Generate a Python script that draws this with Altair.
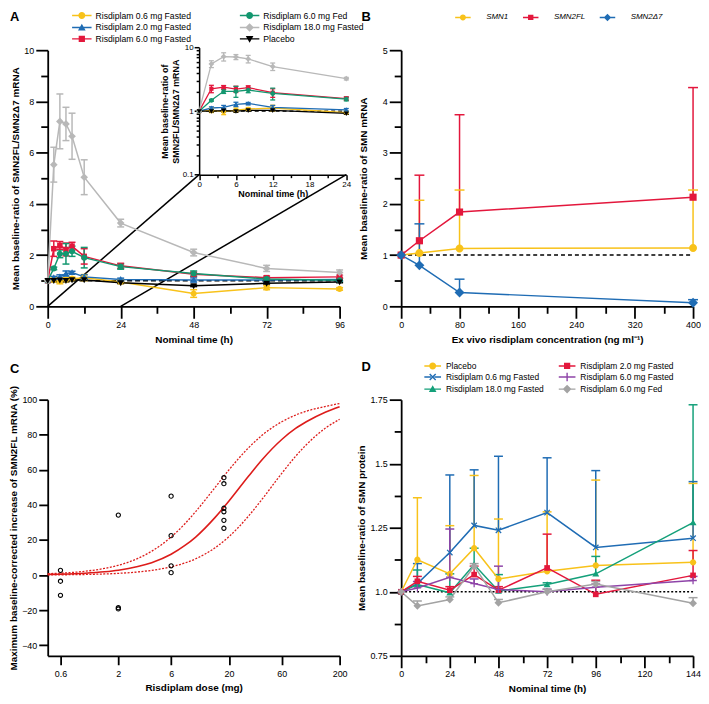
import altair as alt
import pandas as pd

FONT = "Liberation Sans"
W, H = 294, 258

# ---------------- Panel A data ----------------
A_TIME = [0, 2, 4, 6, 8, 12, 24, 48, 72, 96]
A_GROUPS = ["Risdiplam 0.6 mg Fasted", "Risdiplam 2.0 mg Fasted", "Risdiplam 6.0 mg Fasted",
            "Risdiplam 6.0 mg Fed", "Risdiplam 18.0 mg Fasted", "Placebo"]
A_COLORS = ["#F8C21A", "#1F6CB4", "#E3173C", "#13976F", "#B8B8B8", "#000000"]
A_MEAN_06 = [1.0, 1.03, 0.98, 1.04, 1.08, 1.12, 0.95, 0.50, 0.73, 0.68]
A_ERR_06 = [0, 0.08, 0.10, 0.08, 0.06, 0.12, 0.06, 0.15, 0.08, 0.05]
A_MEAN_20 = [1.0, 1.12, 1.15, 1.28, 1.32, 1.15, 1.05, 1.03, 1.03, 1.05]
A_ERR_20 = [0, 0.05, 0.08, 0.10, 0.05, 0.08, 0.05, 0.08, 0.05, 0.04]
A_MEAN_60 = [1.0, 2.25, 2.38, 2.22, 2.35, 1.95, 1.58, 1.25, 1.12, 1.15]
A_ERR_60 = [0, 0.30, 0.15, 0.25, 0.15, 0.30, 0.10, 0.08, 0.06, 0.05]
A_MEAN_60FED = [1.0, 1.48, 2.05, 2.05, 2.15, 1.90, 1.55, 1.28, 1.07, 1.02]
A_ERR_60FED = [0, 0.05, 0.15, 0.40, 0.20, 0.40, 0.10, 0.10, 0.05, 0.08]
A_MEAN_180 = [1.0, 5.53, 7.22, 7.12, 6.64, 5.04, 3.25, 2.10, 1.48, 1.32]
A_ERR_180 = [0, 0.68, 1.07, 0.65, 0.90, 0.68, 0.15, 0.13, 0.12, 0.10]
A_MEAN_PBO = [1.0, 1.00, 1.02, 1.00, 1.03, 1.03, 0.92, 0.80, 0.90, 0.95]
A_ERR_PBO = [0, 0.03, 0.05, 0.04, 0.03, 0.02, 0.03, 0.03, 0.03, 0.03]
A_X_TICKS = [0, 12, 24, 36, 48, 60, 72, 84, 96]
A_Y_TICKS = [0, 1, 2, 3, 4, 5, 6, 7, 8, 9, 10]
A_REF_Y = 1.0
# inset frame expressed in main-panel data units (h, ratio)
A_INSET_X = [49.8, 98.2]
A_INSET_Y = [5.14, 10.1]
A_CONN_X0 = [0, 24]
INSET_X_TICKS = [0, 3, 6, 9, 12, 15, 18, 21, 24]
INSET_Y_TICKS = [0.1, 0.2, 0.3, 0.4, 0.5, 0.6, 0.7, 0.8, 0.9, 1, 2, 3, 4, 5, 6, 7, 8, 9, 10]

# ---------------- Panel B data ----------------
B_CONC = [0, 25, 80, 400]
B_GENES = ["SMN1", "SMN2FL", "SMN2Δ7"]
B_COLORS = ["#F8C21A", "#E3173C", "#1F6CB4"]
B_MEAN_SMN1 = [1.0, 1.04, 1.13, 1.14]
B_UP_SMN1 = [1.0, 2.07, 2.27, 2.27]
B_MEAN_FL = [1.0, 1.28, 1.84, 2.13]
B_UP_FL = [1.0, 2.56, 3.74, 4.27]
B_MEAN_D7 = [1.0, 0.80, 0.27, 0.07]
B_UP_D7 = [1.0, 1.61, 0.53, 0.13]
B_X_TICKS = [0, 40, 80, 120, 160, 200, 240, 280, 320, 360, 400]
B_Y_TICKS = [0, 0.5, 1, 1.5, 2, 2.5, 3, 3.5, 4, 4.5, 5]

# ---------------- Panel C data ----------------
C_DOSE = [0.6, 0.6, 0.6, 2, 2, 2, 6, 6, 6, 6, 18, 18, 18, 18, 18, 18]
C_INC = [2.7, -3.5, -11.5, 34.2, -18.6, -19.3, 45.0, 22.5, 5.3, 1.4, 55.5, 52.1, 38.1, 36.1, 31.2, 26.7]
C_CURVE_DOSE = [0.46, 0.6, 0.8, 1, 1.5, 2, 3, 4, 6, 8, 10, 15, 20, 30, 40, 60, 80, 100, 150, 200]
C_FIT = [0.4, 0.55, 0.8, 1.1, 1.9, 2.8, 4.9, 7.1, 11.9, 16.9, 21.7, 32.9, 42.2, 56.3, 65.9, 77.3, 83.6, 87.4, 93.0, 96.0]
C_UPPER = [0.8, 1.1, 1.6, 2.2, 3.8, 5.6, 9.5, 13.6, 21.7, 29.3, 36.2, 50.0, 60.0, 72.5, 79.8, 87.4, 91.2, 93.4, 96.2, 97.8]
C_LOWER = [0.12, 0.17, 0.26, 0.36, 0.65, 1.0, 1.8, 2.7, 4.7, 6.9, 9.3, 15.6, 21.9, 33.6, 43.4, 58.0, 67.7, 74.3, 83.9, 88.8]
C_X_TICKS = [0.6, 2, 6, 20, 60, 200]
C_Y_TICKS = [-40, -20, 0, 20, 40, 60, 80, 100]

# ---------------- Panel D data ----------------
D_TIME = [0, 8, 24, 36, 48, 72, 96, 144]
D_GROUPS = ["Placebo", "Risdiplam 0.6 mg Fasted", "Risdiplam 18.0 mg Fasted",
            "Risdiplam 2.0 mg Fasted", "Risdiplam 6.0 mg Fasted", "Risdiplam 6.0 mg Fed"]
D_COLORS = ["#F8C21A", "#1F6CB4", "#14A07A", "#E3173C", "#8E44A8", "#A3A3A3"]
D_MEAN_PBO = [1.0, 1.125, 1.07, 1.17, 1.05, 1.08, 1.103, 1.115]
D_UP_PBO = [1.0, 1.367, 1.258, 1.454, 1.284, 1.312, 1.436, 1.423]
D_MEAN_06 = [1.0, 1.032, 1.153, 1.259, 1.240, 1.309, 1.173, 1.209]
D_UP_06 = [1.0, 1.11, 1.456, 1.476, 1.529, 1.523, 1.473, 1.43]
D_MEAN_180 = [1.0, 1.028, 0.996, 1.106, 1.003, 1.028, 1.07, 1.27]
D_UP_180 = [1.0, 1.085, 1.07, 1.17, 1.067, 1.035, 1.138, 1.73]
D_MEAN_20 = [1.0, 1.041, 1.006, 1.067, 1.006, 1.093, 0.99, 1.064]
D_UP_20 = [1.0, 1.06, 1.02, 1.10, 1.02, 1.225, 1.045, 1.161]
D_MEAN_60 = [1.0, 1.015, 1.057, 1.032, 1.009, 1.0, 1.018, 1.044]
D_UP_60 = [1.0, 1.04, 1.245, 1.05, 1.10, 1.01, 1.03, 1.06]
D_MEAN_60FED = [1.0, 0.945, 0.97, 1.10, 0.957, 1.0, 1.03, 0.955]
D_UP_60FED = [1.0, 0.964, 0.98, 1.11, 0.97, 1.01, 1.04, 0.977]
D_X_TICKS = [0, 12, 24, 36, 48, 60, 72, 84, 96, 108, 120, 132, 144]
D_Y_TICKS = [0.75, 0.875, 1.0, 1.125, 1.25, 1.375, 1.5, 1.625, 1.75]

# ---------------- symbol paths (filled, clockwise) ----------------
P_CIRCLE = "M-1,0A1,1,0,1,1,1,0A1,1,0,1,1,-1,0Z"
P_SQUARE = "M-0.9,-0.9H0.9V0.9H-0.9Z"
P_TRI_UP = "M0,-1.1L1.1,0.85L-1.1,0.85Z"
P_TRI_DOWN = "M-1.1,-0.85L1.1,-0.85L0,1.1Z"
P_DIAMOND = "M0,-1.25L1.25,0L0,1.25L-1.25,0Z"
P_X = ("M-0.72,-1L0,-0.28L0.72,-1L1,-0.72L0.28,0L1,0.72L0.72,1L0,0.28"
       "L-0.72,1L-1,0.72L-0.28,0L-1,-0.72Z")
P_PLUS = "M-1.2,-0.2H-0.2V-1.2H0.2V-0.2H1.2V0.2H0.2V1.2H-0.2V0.2H-1.2Z"


def with_line(p, half, t):
    return f"M-{half},-{t}H-0.5V{t}H-{half}ZM0.5,-{t}H{half}V{t}H0.5Z" + p


def long_df(xs, names, means, los, his):
    rows = []
    for n, ms, ls, hs in zip(names, means, los, his):
        for x, m, lo, hi in zip(xs, ms, ls, hs):
            rows.append({"x": x, "g": n, "m": m, "lo": lo, "hi": hi})
    return pd.DataFrame(rows)


def tick_size(test, major, minor):
    return {"condition": {"test": test, "value": major}, "value": minor}


def make_axis(values, test, title, major=12, minor=7, orient="bottom", label_expr=None, **kw):
    return alt.Axis(values=values, title=title, orient=orient,
                    labelExpr=label_expr if label_expr else f"({test}) ? format(datum.value, '~g') : ''",
                    tickSize=tick_size(test, major, minor), labelOverlap=False, labelFlush=False, **kw)


def legend_layer(names, colors, paths, legend):
    df = pd.DataFrame({"lg": names, "lx": [None] * len(names), "ly": [None] * len(names)})
    return alt.Chart(df).mark_point(filled=True, opacity=1).encode(
        x=alt.X("lx:Q", axis=None),
        y=alt.Y("ly:Q", axis=None),
        color=alt.Color("lg:N", scale=alt.Scale(domain=names, range=colors), legend=legend),
        shape=alt.Shape("lg:N", scale=alt.Scale(domain=names, range=paths), legend=legend),
    )


def panel_title(letter, dx, dy):
    return alt.TitleParams(text=letter, orient="none", anchor="start", frame="group", dx=dx, dy=dy,
                           fontSize=13, fontWeight="bold", font=FONT, color="black", baseline="middle")


INDEP = dict(x="independent", y="independent", shape="independent", color="independent")

# ======================= Panel A =======================
A_MEANS = [A_MEAN_06, A_MEAN_20, A_MEAN_60, A_MEAN_60FED, A_MEAN_180, A_MEAN_PBO]
A_ERRS = [A_ERR_06, A_ERR_20, A_ERR_60, A_ERR_60FED, A_ERR_180, A_ERR_PBO]
dfA = long_df(A_TIME, A_GROUPS, A_MEANS,
              [[m - e for m, e in zip(ms, es)] for ms, es in zip(A_MEANS, A_ERRS)],
              [[m + e for m, e in zip(ms, es)] for ms, es in zip(A_MEANS, A_ERRS)])

axA_x = make_axis(A_X_TICKS, "datum.value % 24 == 0", "Nominal time (h)", titlePadding=5)
axA_y = make_axis(A_Y_TICKS, "datum.value % 2 == 0", "Mean baseline-ratio of SMN2FL/SMN2Δ7 mRNA",
                  orient="left", titlePadding=3)
scA_x = alt.Scale(domain=[0, 96], nice=False, zero=False)
scA_y = alt.Scale(domain=[0, 10], nice=False)
A_SHAPES = [P_CIRCLE, P_TRI_UP, P_SQUARE, P_CIRCLE, P_DIAMOND, P_TRI_DOWN]
colA = alt.Color("g:N", scale=alt.Scale(domain=A_GROUPS, range=A_COLORS), legend=None)
shpA = alt.Shape("g:N", scale=alt.Scale(domain=A_GROUPS, range=A_SHAPES), legend=None)


def xa(f):
    return alt.X(f, scale=scA_x, axis=axA_x)


def ya(f):
    return alt.Y(f, scale=scA_y, axis=axA_y)


conn = pd.DataFrame({"x": A_CONN_X0, "y": [0, 0],
                     "x2": [A_INSET_X[0], A_INSET_X[1]], "y2": [A_INSET_Y[0], A_INSET_Y[0]]})
a_conn = alt.Chart(conn).mark_rule(color="black", strokeWidth=1.5).encode(
    x=xa("x:Q"), y=ya("y:Q"), x2="x2:Q", y2="y2:Q")
a_ref = alt.Chart(pd.DataFrame({"x": [0], "x2": [96], "y": [A_REF_Y]})).mark_rule(
    color="black", strokeWidth=1.5, strokeDash=[5, 3]).encode(x=xa("x:Q"), x2="x2:Q", y=ya("y:Q"))
a_base = alt.Chart(dfA)
a_err_base = a_base.transform_filter("datum.hi > datum.lo")
a_line = a_base.mark_line(strokeWidth=1.5).encode(x=xa("x:Q"), y=ya("m:Q"), color=colA)
a_err = a_err_base.mark_rule(strokeWidth=1.5).encode(x=xa("x:Q"), y=ya("lo:Q"), y2="hi:Q", color=colA)
a_caph = a_err_base.mark_tick(orient="horizontal", size=7, thickness=1.5, opacity=1).encode(
    x=xa("x:Q"), y=ya("hi:Q"), color=colA)
a_capl = a_err_base.mark_tick(orient="horizontal", size=7, thickness=1.5, opacity=1).encode(
    x=xa("x:Q"), y=ya("lo:Q"), color=colA)
a_pts = a_base.mark_point(filled=True, size=38, opacity=1).encode(
    x=xa("x:Q"), y=ya("m:Q"), color=colA, shape=shpA)
a_main = alt.layer(a_conn, a_ref, a_line, a_err, a_caph, a_capl, a_pts)

# inset
ins_xr = [A_INSET_X[0] / 96 * W, A_INSET_X[1] / 96 * W]
ins_yr = [H - A_INSET_Y[0] / 10 * H, H - A_INSET_Y[1] / 10 * H]
axI_x = make_axis(INSET_X_TICKS, "datum.value % 6 == 0", "Nominal time (h)", major=5, minor=3,
                  offset=-(A_INSET_Y[0] / 10 * H), labelFontSize=8, titleFontSize=9, titlePadding=1,
                  labelPadding=1, domainWidth=1.5, tickWidth=1.5)
axI_y = make_axis(INSET_Y_TICKS, "datum.value == 0.1 || datum.value == 1 || datum.value == 10",
                  ["Mean baseline-ratio of", "SMN2FL/SMN2Δ7 mRNA"], major=5, minor=3, orient="left",
                  offset=-ins_xr[0], labelFontSize=8, titleFontSize=9, titlePadding=2, labelPadding=1,
                  domainWidth=1.5, tickWidth=1.5)
scI_x = alt.Scale(domain=[0, 24], range=ins_xr, nice=False, zero=False)
scI_y = alt.Scale(type="log", domain=[0.1, 10], range=ins_yr, nice=False)


def xi(f):
    return alt.X(f, scale=scI_x, axis=axI_x)


def yi(f):
    return alt.Y(f, scale=scI_y, axis=axI_y)


dfI = dfA[dfA["x"] <= 24]
i_base = alt.Chart(dfI)
i_err_base = i_base.transform_filter("datum.hi > datum.lo")
i_ref = alt.Chart(pd.DataFrame({"x": [0], "x2": [24], "y": [A_REF_Y]})).mark_rule(
    color="black", strokeWidth=1.2, strokeDash=[4, 3]).encode(x=xi("x:Q"), x2="x2:Q", y=yi("y:Q"))
i_line = i_base.mark_line(strokeWidth=1.3).encode(x=xi("x:Q"), y=yi("m:Q"), color=colA)
i_err = i_err_base.mark_rule(strokeWidth=1.3).encode(x=xi("x:Q"), y=yi("lo:Q"), y2="hi:Q", color=colA)
i_caph = i_err_base.mark_tick(orient="horizontal", size=5, thickness=1.3, opacity=1).encode(
    x=xi("x:Q"), y=yi("hi:Q"), color=colA)
i_capl = i_err_base.mark_tick(orient="horizontal", size=5, thickness=1.3, opacity=1).encode(
    x=xi("x:Q"), y=yi("lo:Q"), color=colA)
i_pts = i_base.mark_point(filled=True, size=22, opacity=1).encode(
    x=xi("x:Q"), y=yi("m:Q"), color=colA, shape=shpA)
a_inset = alt.layer(i_ref, i_line, i_err, i_caph, i_capl, i_pts)

legA = alt.Legend(orient="none", legendX=30, legendY=-39.7, columns=2, title=None,
                  labelFont=FONT, labelFontSize=8.7, labelColor="black", symbolSize=49,
                  symbolStrokeWidth=0, labelOffset=9.5, columnPadding=48, rowPadding=1.5, padding=0)
a_leg = legend_layer(A_GROUPS, A_COLORS, [with_line(p, 2.8, 0.2) for p in A_SHAPES], legA)

panelA = alt.layer(a_main, a_inset, a_leg).resolve_scale(**INDEP).properties(
    width=W, height=H, title=panel_title("A", -38, -33))

# ======================= Panel B =======================
dfB = long_df(B_CONC, B_GENES, [B_MEAN_SMN1, B_MEAN_FL, B_MEAN_D7],
              [B_MEAN_SMN1, B_MEAN_FL, B_MEAN_D7], [B_UP_SMN1, B_UP_FL, B_UP_D7])
axB_x = make_axis(B_X_TICKS, "datum.value % 80 == 0", "Ex vivo risdiplam concentration (ng ml⁻¹)", titlePadding=5)
axB_y = make_axis(B_Y_TICKS, "datum.value % 1 == 0", "Mean baseline-ratio of SMN mRNA", orient="left", titlePadding=14)
scB_x = alt.Scale(domain=[0, 400], nice=False, zero=False)
scB_y = alt.Scale(domain=[0, 5], nice=False)
B_SHAPES = [P_CIRCLE, P_SQUARE, P_DIAMOND]
colB = alt.Color("g:N", scale=alt.Scale(domain=B_GENES, range=B_COLORS), legend=None)
shpB = alt.Shape("g:N", scale=alt.Scale(domain=B_GENES, range=B_SHAPES), legend=None)


def xb(f):
    return alt.X(f, scale=scB_x, axis=axB_x)


def yb(f):
    return alt.Y(f, scale=scB_y, axis=axB_y)


b_base = alt.Chart(dfB)
b_err_base = b_base.transform_filter("datum.hi > datum.lo")
b_ref = alt.Chart(pd.DataFrame({"x": [0], "x2": [400], "y": [1.0]})).mark_rule(
    color="black", strokeWidth=1.5, strokeDash=[4, 3]).encode(x=xb("x:Q"), x2="x2:Q", y=yb("y:Q"))
b_err = b_err_base.mark_rule(strokeWidth=1.5).encode(x=xb("x:Q"), y=yb("lo:Q"), y2="hi:Q", color=colB)
b_cap = b_err_base.mark_tick(orient="horizontal", size=10, thickness=1.5, opacity=1).encode(
    x=xb("x:Q"), y=yb("hi:Q"), color=colB)
b_line = b_base.mark_line(strokeWidth=1.5).encode(x=xb("x:Q"), y=yb("m:Q"), color=colB)
b_pts = b_base.mark_point(filled=True, size=64, opacity=1).encode(
    x=xb("x:Q"), y=yb("m:Q"), color=colB, shape=shpB)
legB = alt.Legend(orient="none", legendX=58.2, legendY=-37, direction="horizontal", title=None,
                  labelFont=FONT, labelFontSize=8, labelFontStyle="italic", labelColor="black",
                  symbolSize=36, symbolStrokeWidth=0, labelOffset=19.4, columnPadding=14.3, padding=0)
b_leg = legend_layer(B_GENES, B_COLORS, [with_line(p, 2.6, 0.25) for p in B_SHAPES], legB)
panelB = alt.layer(alt.layer(b_ref, b_err, b_cap, b_line, b_pts), b_leg).resolve_scale(**INDEP).properties(
    width=W, height=H, title=panel_title("B", -40, -33))

# ======================= Panel C =======================
dfC_pts = pd.DataFrame({"dose": C_DOSE, "inc": C_INC})
dfC_fit = pd.DataFrame({"dose": C_CURVE_DOSE, "inc": C_FIT})
dfC_ci = pd.concat([pd.DataFrame({"dose": C_CURVE_DOSE, "inc": C_UPPER, "k": "upper"}),
                    pd.DataFrame({"dose": C_CURVE_DOSE, "inc": C_LOWER, "k": "lower"})])
axC_x = alt.Axis(values=C_X_TICKS, labelExpr="format(datum.value, '~g')", title="Risdiplam dose (mg)",
                 tickSize=9, labelPadding=5, titlePadding=4, labelOverlap=False, labelFlush=False)
axC_y = alt.Axis(values=C_Y_TICKS, title="Maximum baseline-corrected increase of SMN2FL mRNA (%)",
                 tickSize=9, titlePadding=3, labelOverlap=False)
xc = alt.X("dose:Q", scale=alt.Scale(type="log", domain=[0.46, 200], nice=False), axis=axC_x)
yc = alt.Y("inc:Q", scale=alt.Scale(domain=[-46, 100], nice=False, zero=False), axis=axC_y)
c_fit = alt.Chart(dfC_fit).mark_line(color="#DD1C1A", strokeWidth=1.6, interpolate="monotone").encode(x=xc, y=yc)
c_ci = alt.Chart(dfC_ci).mark_line(color="#DD1C1A", strokeWidth=1.3, strokeDash=[2, 1.5],
                                   interpolate="monotone").encode(x=xc, y=yc, detail="k:N")
c_pts = alt.Chart(dfC_pts).mark_point(shape="circle", filled=False, color="black", size=18,
                                      strokeWidth=1.1, opacity=1).encode(x=xc, y=yc)
panelC = alt.layer(c_fit, c_ci, c_pts).properties(width=W, height=H, title=panel_title("C", -38, -31))

# ======================= Panel D =======================
D_MEANS = [D_MEAN_PBO, D_MEAN_06, D_MEAN_180, D_MEAN_20, D_MEAN_60, D_MEAN_60FED]
D_UPS = [D_UP_PBO, D_UP_06, D_UP_180, D_UP_20, D_UP_60, D_UP_60FED]
dfD = long_df(D_TIME, D_GROUPS, D_MEANS, D_MEANS, D_UPS)
axD_x = make_axis(D_X_TICKS, "datum.value % 24 == 0", "Nominal time (h)", titlePadding=5)
axD_y = make_axis(D_Y_TICKS, "(datum.value * 4) % 1 == 0", "Mean baseline-ratio of SMN protein",
                  orient="left", titlePadding=3,
                  label_expr="((datum.value * 4) % 1 == 0) ? (datum.value == 1 ? '1.0' : format(datum.value, '~g')) : ''")
scD_x = alt.Scale(domain=[0, 144], nice=False, zero=False)
scD_y = alt.Scale(domain=[0.75, 1.75], nice=False, zero=False)
D_SHAPES = [P_CIRCLE, P_X, P_TRI_UP, P_SQUARE, P_PLUS, P_DIAMOND]
colD = alt.Color("g:N", scale=alt.Scale(domain=D_GROUPS, range=D_COLORS), legend=None)
shpD = alt.Shape("g:N", scale=alt.Scale(domain=D_GROUPS, range=D_SHAPES), legend=None)


def xd(f):
    return alt.X(f, scale=scD_x, axis=axD_x)


def yd(f):
    return alt.Y(f, scale=scD_y, axis=axD_y)


d_base = alt.Chart(dfD)
d_err_base = d_base.transform_filter("datum.hi > datum.lo")
d_ref = alt.Chart(pd.DataFrame({"x": [0], "x2": [144], "y": [1.0]})).mark_rule(
    color="black", strokeWidth=1.5, strokeDash=[2, 2]).encode(x=xd("x:Q"), x2="x2:Q", y=yd("y:Q"))
d_err = d_err_base.mark_rule(strokeWidth=1.5).encode(x=xd("x:Q"), y=yd("lo:Q"), y2="hi:Q", color=colD)
d_cap = d_err_base.mark_tick(orient="horizontal", size=9, thickness=1.5, opacity=1).encode(
    x=xd("x:Q"), y=yd("hi:Q"), color=colD)
d_line = d_base.mark_line(strokeWidth=1.5).encode(x=xd("x:Q"), y=yd("m:Q"), color=colD)
d_pts = d_base.mark_point(filled=True, size=40, opacity=1).encode(
    x=xd("x:Q"), y=yd("m:Q"), color=colD, shape=shpD)
legD = alt.Legend(orient="none", legendX=27.5, legendY=-38.3, columns=2, title=None,
                  labelFont=FONT, labelFontSize=8.5, labelColor="black", symbolSize=49,
                  symbolStrokeWidth=0, labelOffset=9.1, columnPadding=13.4, rowPadding=2.2, padding=0)
d_leg = legend_layer(D_GROUPS, D_COLORS, [with_line(p, 2.4, 0.2) for p in D_SHAPES], legD)
panelD = alt.layer(alt.layer(d_ref, d_err, d_cap, d_line, d_pts), d_leg).resolve_scale(**INDEP).properties(
    width=W, height=H, title=panel_title("D", -40, -33))

# ======================= Assemble =======================
chart = alt.concat(panelA, panelB, panelC, panelD, columns=2,
                   spacing={"row": 94, "column": 62}, bounds="flush").resolve_scale(
    x="independent", y="independent", color="independent", shape="independent").properties(
    padding=0).configure_view(stroke=None).configure_axis(
    grid=False, domainColor="black", domainWidth=1.8, tickColor="black", tickWidth=1.8,
    labelFont=FONT, labelFontSize=9, labelColor="black", labelPadding=2,
    titleFont=FONT, titleFontSize=10, titleFontWeight="bold", titleColor="black")

chart.save("out.html", embed_options={"renderer": "svg", "actions": False})
